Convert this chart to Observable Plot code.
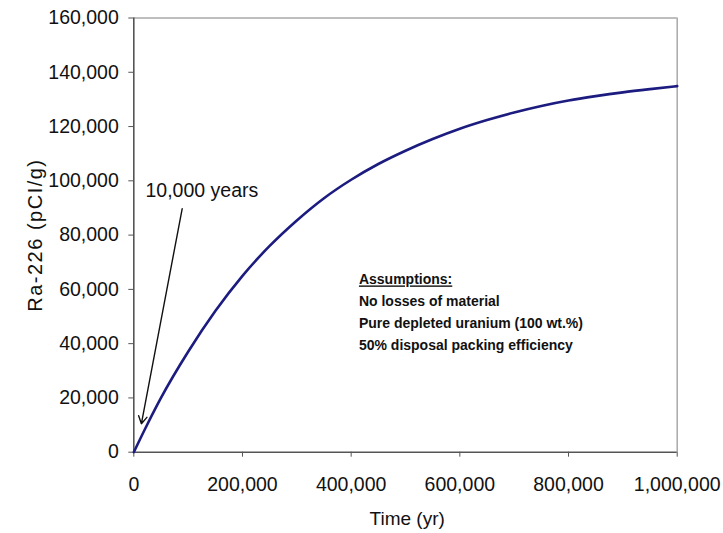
<!DOCTYPE html>
<html><head><meta charset="utf-8">
<script src="https://cdn.jsdelivr.net/npm/d3@7"></script>
<script src="https://cdn.jsdelivr.net/npm/@observablehq/plot@0.6"></script>
<style>body{margin:0;background:#fff}</style>
</head><body><div id="chart"></div>
<script>
// Data
const years = [0, 25000, 50000, 100000, 150000, 200000, 250000, 300000, 350000, 400000, 450000, 500000, 550000, 600000, 650000, 700000, 750000, 800000, 850000, 900000, 950000, 1000000];
const ra226 = [0, 10300, 20000, 37000, 52000, 65000, 76000, 85400, 93600, 100400, 106200, 111100, 115400, 119200, 122400, 125200, 127600, 129600, 131200, 132600, 133800, 134900];
const xTicks = [0, 200000, 400000, 600000, 800000, 1000000];
const yTicks = [0, 20000, 40000, 60000, 80000, 100000, 120000, 140000, 160000];
const xLabel = "Time (yr)";
const yLabel = "Ra-226 (pCI/g)";
const arrowLabel = "10,000 years";
const assumptions = ["Assumptions:", "No losses of material", "Pure depleted uranium (100 wt.%)", "50% disposal packing efficiency"];

const rows = years.map((t, i) => ({t, v: ra226[i]}));
const arrowSpec = [{x1: 89000, y1: 89700, x2: 14000, y2: 10500}];

const font = "'Liberation Sans', Arial, Helvetica, sans-serif";
const svg = Plot.plot({
  width: 723, height: 533,
  marginLeft: 133.3, marginRight: 46.3, marginTop: 17.5, marginBottom: 81.3,
  x: {domain: [0, 1000000]},
  y: {domain: [0, 160000]},
  style: {fontFamily: font, fontSize: "19.5px", color: "#111", background: "#fff", overflow: "visible"},
  marks: [
    Plot.ruleY([160000], {stroke: "#a8a8a8", strokeWidth: 1.5}),
    Plot.ruleX([1000000], {stroke: "#a8a8a8", strokeWidth: 1.5}),
    Plot.axisY({ticks: yTicks, tickFormat: d3.format(","), tickSize: 5, tickPadding: 10, label: null, stroke: "#555", fill: "#111"}),
    Plot.axisX({ticks: xTicks, tickFormat: d3.format(","), tickSize: 5, tickPadding: 20, label: null, stroke: "#555", fill: "#111"}),
    Plot.ruleX([0], {stroke: "#555", strokeWidth: 1.6}),
    Plot.ruleY([0], {stroke: "#555", strokeWidth: 1.6}),
    Plot.line(rows, {x: "t", y: "v", stroke: "#1c1c80", strokeWidth: 2.6, curve: "monotone-x"}),
    Plot.arrow(arrowSpec, {x1: "x1", y1: "y1", x2: "x2", y2: "y2", stroke: "#111", strokeWidth: 1.4, headLength: 9}),
    Plot.text([arrowLabel], {x: 21500, y: 96300, text: d => d, textAnchor: "start", lineAnchor: "middle", fontSize: 19.5, fill: "#111"}),
    Plot.text([assumptions.join("\n")], {x: 414300, y: 67500, text: d => d, textAnchor: "start", lineAnchor: "top", fontSize: 14, fontWeight: "bold", lineHeight: 1.55, fill: "#111"}),
    Plot.text([yLabel], {frameAnchor: "left", dx: -98.3, rotate: -90, text: d => d, textAnchor: "middle", lineAnchor: "middle", fontSize: 20, fill: "#111"}),
    Plot.text([xLabel], {frameAnchor: "bottom", dx: 1.7, dy: 67.2, text: d => d, textAnchor: "middle", lineAnchor: "middle", fontSize: 19, fill: "#111"})
  ]
});
d3.select(svg).selectAll("tspan, text").each(function() {
  if (this.textContent === assumptions[0]) this.style.textDecoration = "underline";
  if (this.textContent === yLabel) this.style.letterSpacing = "1.5px";
});
document.getElementById("chart").appendChild(svg);
</script>
</body></html>
